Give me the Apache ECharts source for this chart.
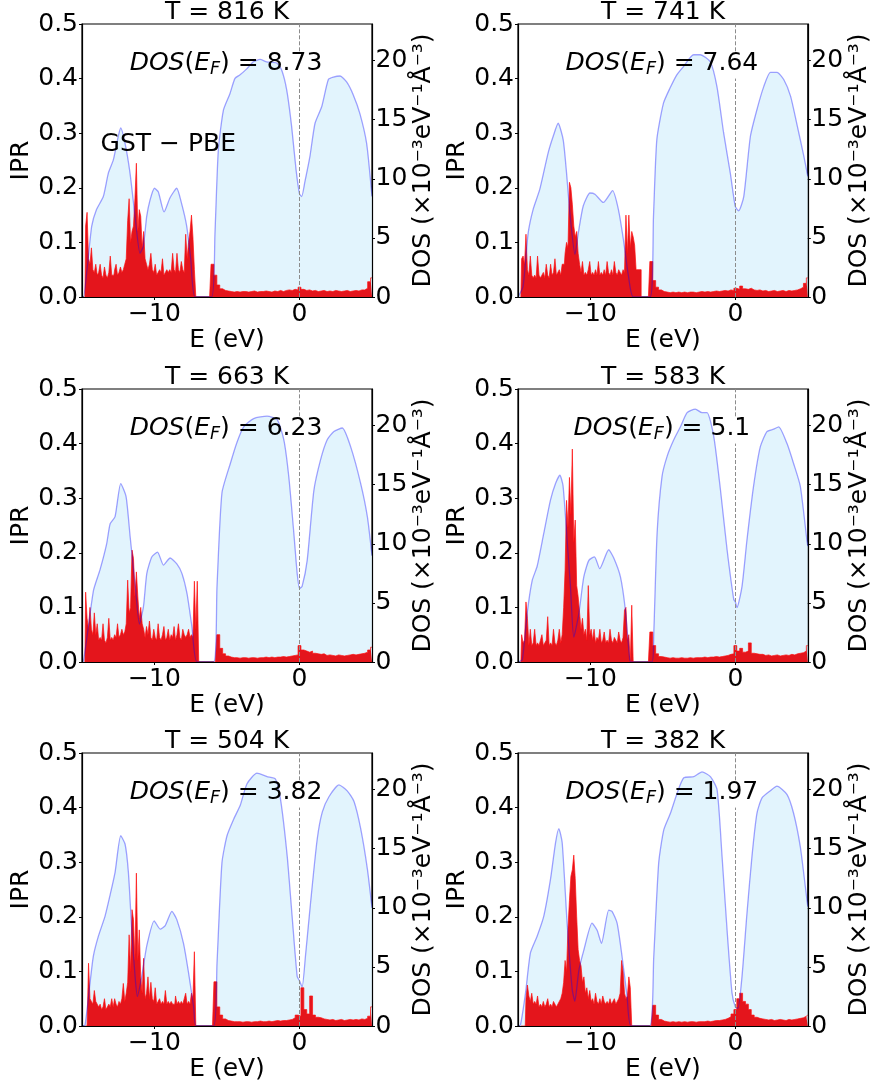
<!DOCTYPE html>
<html><head><meta charset="utf-8">
<script src="https://cdn.jsdelivr.net/npm/echarts@6/dist/echarts.min.js"></script>
<style>html,body{margin:0;padding:0;background:#fff}#c{width:873px;height:1084px}</style>
</head><body><div id="c"></div>
<script>
// ---------- data ----------
const temps = ['816', '741', '663', '583', '504', '382'];
const dosEF = ['8.73', '7.64', '6.23', '5.1', '3.82', '1.97'];
const xTicks = [-10, 0];
const dosTicks = [0, 5, 10, 15, 20];

// energy grids (eV) for IPR samples
const eVal = [-14.8,-14.7,-14.6,-14.5,-14.4,-14.3,-14.2,-14.1,-14.0,-13.9,
  -13.8,-13.7,-13.6,-13.5,-13.4,-13.3,-13.2,-13.1,-13.0,-12.9,
  -12.8,-12.7,-12.6,-12.5,-12.4,-12.3,-12.2,-12.1,-12.0,-11.9,
  -11.8,-11.7,-11.6,-11.5,-11.4,-11.3,-11.2,-11.1,-11.0,-10.9,
  -10.8,-10.7,-10.6,-10.5,-10.4,-10.3,-10.2,-10.1,-10.0,-9.9,
  -9.8,-9.7,-9.6,-9.5,-9.4,-9.3,-9.2,-9.1,-9.0,-8.9,
  -8.8,-8.7,-8.6,-8.5,-8.4,-8.3,-8.2,-8.1,-8.0,-7.9,
  -7.8,-7.7,-7.6,-7.5,-7.4,-7.3,-7.2,-7.1,-7.0,-6.9,
  -6.8];
const eCon = [-6.2,-6.0,-5.8,-5.6,-5.4,-5.2,-5.0,-4.8,-4.6,-4.4,
  -4.2,-4.0,-3.8,-3.6,-3.4,-3.2,-3.0,-2.8,-2.6,-2.4,
  -2.2,-2.0,-1.8,-1.6,-1.4,-1.2,-1.0,-0.8,-0.6,-0.4,
  -0.2,0.0,0.2,0.4,0.6,0.8,1.0,1.2,1.4,1.6,
  1.8,2.0,2.2,2.4,2.6,2.8,3.0,3.2,3.4,3.6,
  3.8,4.0,4.2,4.4,4.6,4.8,5.0];

// IPR values (valence grid / conduction grid)
const ipr816v = [0,0.13,0.155,0.07,0.06,0.09,0.05,0.045,0.06,0.04,
  0.045,0.06,0.04,0.035,0.055,0.04,0.035,0.045,0.075,0.04,
  0.04,0.05,0.06,0.04,0.045,0.055,0.045,0.05,0.06,0.07,
  0.14,0.18,0.1,0.12,0.13,0.18,0.245,0.12,0.16,0.148,
  0.09,0.12,0.07,0.06,0.05,0.06,0.08,0.05,0.045,0.06,
  0.04,0.045,0.05,0.045,0.07,0.04,0.045,0.05,0.045,0.05,
  0.045,0.08,0.05,0.045,0.08,0.05,0.045,0.065,0.05,0.045,
  0.115,0.07,0.1,0.12,0.15,0.11,0.05,0,0,0,
  0];
const ipr816c = [0,0.06,0.04,0.022,0.015,0.012,0.011,0.01,0.009,0.01,
  0.009,0.01,0.01,0.009,0.01,0.011,0.009,0.01,0.01,0.011,
  0.01,0.009,0.011,0.01,0.012,0.01,0.012,0.013,0.012,0.014,
  0.013,0.018,0.014,0.012,0.013,0.011,0.012,0.01,0.011,0.012,
  0.01,0.011,0.01,0.012,0.011,0.01,0.011,0.012,0.01,0.011,
  0.012,0.011,0.013,0.013,0.016,0.028,0.035];

const ipr741v = [0,0.07,0.075,0.06,0.115,0.05,0.04,0.075,0.04,0.035,
  0.04,0.035,0.075,0.04,0.035,0.04,0.045,0.035,0.06,0.04,
  0.035,0.06,0.04,0.045,0.07,0.04,0.045,0.05,0.04,0.06,
  0.06,0.08,0.1,0.09,0.21,0.2,0.17,0.13,0.11,0.12,
  0.08,0.06,0.045,0.065,0.04,0.045,0.04,0.05,0.065,0.04,
  0.045,0.04,0.05,0.04,0.065,0.04,0.045,0.04,0.05,0.04,
  0.065,0.045,0.04,0.05,0.04,0.065,0.045,0.04,0.05,0.045,
  0.04,0.05,0.045,0.15,0.08,0.15,0.09,0.12,0.11,0.095,
  0.05];
const ipr741c = [0,0,0.065,0.03,0.018,0.013,0.01,0.009,0.008,0.009,
  0.008,0.009,0.008,0.009,0.008,0.009,0.009,0.008,0.009,0.01,
  0.009,0.01,0.009,0.01,0.011,0.01,0.011,0.012,0.011,0.013,
  0.012,0.016,0.014,0.02,0.015,0.014,0.016,0.013,0.012,0.013,
  0.011,0.012,0.01,0.011,0.012,0.01,0.011,0.012,0.01,0.012,
  0.011,0.012,0.013,0.015,0.018,0.025,0.035];

const ipr663v = [0,0.128,0.08,0.06,0.1,0.06,0.05,0.09,0.05,0.07,
  0.04,0.045,0.04,0.07,0.04,0.035,0.045,0.08,0.04,0.045,
  0.04,0.05,0.045,0.07,0.045,0.05,0.06,0.05,0.055,0.07,
  0.15,0.09,0.1,0.205,0.19,0.12,0.165,0.12,0.08,0.1,
  0.07,0.06,0.045,0.065,0.05,0.075,0.045,0.04,0.06,0.045,
  0.04,0.07,0.045,0.04,0.05,0.065,0.04,0.045,0.06,0.04,
  0.05,0.045,0.065,0.04,0.05,0.07,0.045,0.04,0.06,0.05,
  0.045,0.05,0.06,0.045,0.05,0.045,0.148,0.06,0.148,0,
  0];
const ipr663c = [0,0,0,0.05,0.025,0.015,0.011,0.009,0.008,0.008,
  0.007,0.008,0.008,0.007,0.008,0.008,0.007,0.008,0.008,0.009,
  0.008,0.009,0.008,0.009,0.009,0.01,0.009,0.01,0.011,0.012,
  0.013,0.03,0.022,0.02,0.018,0.02,0.016,0.015,0.014,0.015,
  0.012,0.013,0.012,0.011,0.013,0.012,0.011,0.012,0.013,0.014,
  0.013,0.014,0.015,0.016,0.018,0.022,0.027];

const ipr583v = [0,0.05,0.035,0.04,0.11,0.08,0.03,0.06,0.03,0.035,
  0.06,0.03,0.035,0.03,0.04,0.05,0.03,0.035,0.04,0.083,
  0.03,0.035,0.03,0.06,0.035,0.03,0.04,0.06,0.035,0.05,
  0.1,0.168,0.296,0.247,0.338,0.27,0.39,0.22,0.26,0.14,
  0.12,0.09,0.06,0.08,0.05,0.06,0.04,0.14,0.05,0.06,
  0.04,0.06,0.035,0.045,0.04,0.06,0.035,0.04,0.055,0.035,
  0.04,0.035,0.06,0.04,0.035,0.045,0.04,0.035,0.055,0.04,
  0.035,0.045,0.095,0.1,0.04,0.05,0,0.104,0,0,
  0];
const ipr583c = [0,0,0.055,0.03,0.015,0.01,0.009,0.008,0.007,0.008,
  0.007,0.007,0.008,0.007,0.007,0.008,0.007,0.008,0.008,0.008,
  0.009,0.008,0.009,0.009,0.01,0.009,0.01,0.011,0.012,0.014,
  0.015,0.03,0.02,0.025,0.018,0.02,0.035,0.016,0.015,0.014,
  0.014,0.012,0.013,0.011,0.012,0.013,0.011,0.012,0.013,0.012,
  0.014,0.013,0.015,0.016,0.017,0.02,0.03];

const ipr504v = [0,0,0,0.115,0.05,0.045,0.04,0.065,0.045,0.04,
  0.035,0.04,0.03,0.035,0.05,0.03,0.035,0.04,0.035,0.05,
  0.035,0.05,0.04,0.035,0.045,0.04,0.05,0.078,0.045,0.06,
  0.08,0.167,0.1,0.213,0.195,0.12,0.28,0.12,0.176,0.09,
  0.06,0.124,0.05,0.06,0.09,0.05,0.08,0.05,0.045,0.07,
  0.04,0.045,0.05,0.04,0.045,0.04,0.065,0.04,0.045,0.04,
  0.045,0.04,0.04,0.055,0.04,0.045,0.04,0.045,0.04,0.05,
  0.06,0.04,0.045,0.04,0.06,0.05,0.136,0,0,0,
  0];
const ipr504c = [0,0,0.081,0.035,0.02,0.013,0.01,0.009,0.008,0.008,
  0.008,0.007,0.008,0.008,0.007,0.008,0.008,0.009,0.008,0.008,
  0.009,0.008,0.009,0.01,0.009,0.01,0.01,0.011,0.012,0.015,
  0.02,0.018,0.07,0.03,0.022,0.055,0.02,0.016,0.015,0.013,
  0.012,0.011,0.012,0.01,0.011,0.012,0.01,0.011,0.012,0.011,
  0.012,0.011,0.013,0.012,0.014,0.018,0.035];

const ipr382v = [0,0,0,0,0.05,0.075,0.055,0.045,0.06,0.04,
  0.045,0.04,0.055,0.035,0.04,0.035,0.045,0.035,0.04,0.05,
  0.035,0.04,0.035,0.045,0.04,0.035,0.04,0.045,0.05,0.06,
  0.08,0.12,0.1,0.18,0.23,0.274,0.286,0.313,0.27,0.2,
  0.14,0.12,0.11,0.08,0.09,0.06,0.07,0.05,0.065,0.045,
  0.05,0.04,0.06,0.045,0.04,0.05,0.04,0.055,0.045,0.04,
  0.045,0.04,0.05,0.04,0.045,0.05,0.04,0.045,0.05,0.06,
  0.12,0.1,0.06,0.05,0.055,0.09,0.07,0,0,0,
  0];
const ipr382c = [0,0,0,0.038,0.02,0.012,0.009,0.008,0.007,0.008,
  0.007,0.008,0.007,0.008,0.007,0.008,0.008,0.007,0.008,0.008,
  0.008,0.009,0.008,0.009,0.01,0.01,0.011,0.012,0.014,0.017,
  0.022,0.03,0.05,0.06,0.045,0.04,0.03,0.02,0.016,0.014,
  0.013,0.012,0.011,0.012,0.01,0.011,0.012,0.011,0.01,0.012,
  0.011,0.012,0.013,0.014,0.015,0.018,0.02];

// DOS curves [E (eV), DOS (1e-3 eV^-1 A^-3)]
const dos816 = [[-15,0],[-14.9,0],[-14.63,2.6],[-14.33,6.0],[-14.0,7.4],[-13.53,8.5],[-13.18,10.5],[-12.84,11.6],[-12.5,13.6],[-12.33,14.3],[-12.03,13.0],[-11.69,10.5],[-11.34,6.8],[-11.0,3.7],[-10.77,4.3],[-10.54,6.8],[-10.31,8.2],[-10.0,9.2],[-9.74,8.9],[-9.34,7.2],[-8.93,8.4],[-8.47,9.2],[-8.13,7.9],[-7.78,6.0],[-7.5,3.2],[-7.2,0],[-6.06,0],[-5.83,5.4],[-5.6,12.4],[-5.25,15.8],[-4.8,17.2],[-4.45,18.5],[-4.1,18.8],[-3.64,19.3],[-3.18,19.9],[-2.72,20.1],[-2.26,19.9],[-1.57,19.8],[-1.23,19.2],[-0.88,17.5],[-0.54,14.4],[-0.24,10.8],[0,8.73],[0.15,8.5],[0.38,9.8],[0.72,11.9],[1.07,14.7],[1.53,16.1],[1.99,18.4],[2.33,18.6],[2.8,18.7],[3.25,18.2],[3.71,17.1],[4.17,15.5],[4.63,13.0],[5.0,8.5]];
const dos741 = [[-15,0],[-14.65,0.9],[-14.3,5.4],[-13.96,7.4],[-13.5,9.1],[-12.92,12.2],[-12.57,13.6],[-12.23,14.7],[-11.88,13.3],[-11.65,10.5],[-11.42,7.1],[-11.07,3.6],[-10.84,5.4],[-10.5,7.7],[-10.03,8.8],[-9.69,8.7],[-9.11,8.0],[-8.47,9.0],[-8.07,7.4],[-7.73,4.9],[-7.38,1.8],[-7.04,0],[-5.88,0],[-5.65,6.8],[-5.42,13.3],[-4.96,16.4],[-4.5,17.7],[-4.04,18.8],[-3.58,19.5],[-2.88,20.5],[-2.42,20.5],[-1.73,19.9],[-1.27,17.8],[-0.81,13.9],[-0.35,10.5],[0,7.64],[0.23,7.3],[0.58,8.5],[1.04,13.6],[1.5,15.9],[1.96,17.8],[2.42,19.0],[2.88,19.0],[3.34,18.4],[3.81,17.0],[4.27,14.5],[4.73,11.9],[5.0,10.2]];
const dos663 = [[-15,0],[-14.9,0.1],[-14.56,3.0],[-14.2,6.1],[-13.76,7.8],[-13.3,10.0],[-13.06,11.7],[-12.72,12.3],[-12.33,15.1],[-11.96,14.0],[-11.68,10.6],[-11.34,6.6],[-11.04,3.2],[-10.76,4.7],[-10.53,7.5],[-10.18,8.9],[-9.79,9.3],[-9.38,8.2],[-8.92,8.8],[-8.46,8.3],[-8.11,7.5],[-7.76,5.8],[-7.42,3.0],[-7.07,0],[-5.92,0],[-5.69,6.4],[-5.35,14.3],[-4.77,16.8],[-4.31,18.6],[-3.85,19.9],[-3.16,20.6],[-2.24,20.8],[-1.54,20.5],[-1.08,18.8],[-0.74,15.7],[-0.39,10.9],[-0.16,7.5],[0,6.23],[0.18,6.4],[0.53,8.6],[0.99,14.5],[1.45,17.1],[1.91,18.8],[2.37,19.5],[2.95,19.8],[3.53,18.2],[4.22,15.1],[4.68,12.3],[5.0,9.0]];
const dos583 = [[-15,0],[-14.7,0.2],[-14.37,4.1],[-14.02,6.9],[-13.68,8.1],[-13.22,10.9],[-12.76,13.7],[-12.41,15.1],[-12.11,15.8],[-11.89,14.9],[-11.61,10.3],[-11.38,6.4],[-11.15,2.1],[-10.8,4.1],[-10.46,7.2],[-10.11,8.6],[-9.72,8.9],[-9.36,7.9],[-8.74,9.5],[-8.39,8.8],[-7.93,7.2],[-7.59,4.4],[-7.29,0.2],[-7.2,0],[-5.75,0],[-5.63,2.4],[-5.4,10.9],[-5.06,15.7],[-4.71,17.4],[-4.25,18.8],[-3.79,19.9],[-3.33,21.1],[-2.76,21.4],[-2.3,21.1],[-1.95,21.1],[-1.49,19.1],[-1.03,14.6],[-0.57,9.5],[-0.11,5.3],[0,5.1],[0.11,4.6],[0.46,6.4],[0.8,10.3],[1.26,14.9],[1.72,18.2],[2.18,19.5],[2.64,19.7],[2.99,19.9],[3.56,18.5],[4.02,16.8],[4.48,14.9],[4.94,10.3],[5.0,9.8]];
const dos504 = [[-15,0],[-14.79,0.1],[-14.45,3.6],[-14.22,5.9],[-13.87,7.6],[-13.41,9.3],[-13.06,11.1],[-12.72,13.0],[-12.33,16.1],[-12.03,15.4],[-11.8,13.0],[-11.57,8.2],[-11.34,4.2],[-11.18,2.5],[-10.88,4.2],[-10.53,6.8],[-10.02,8.9],[-9.61,8.2],[-9.26,8.5],[-8.8,9.7],[-8.46,9.0],[-8.0,7.0],[-7.65,4.5],[-7.3,1.6],[-7.12,0],[-5.92,0],[-5.69,5.3],[-5.35,13.8],[-5.0,16.1],[-4.54,17.5],[-4.08,18.7],[-3.62,20.5],[-2.93,21.4],[-2.24,21.1],[-1.66,20.9],[-1.31,19.2],[-0.85,14.4],[-0.51,9.3],[-0.16,4.2],[0,3.82],[0.18,3.3],[0.41,5.9],[0.76,10.4],[1.22,15.8],[1.57,18.1],[2.03,19.4],[2.72,20.4],[3.29,19.9],[3.76,19.0],[4.22,16.7],[4.68,13.3],[5.0,10.0]];
const dos382 = [[-15,0],[-14.83,0.1],[-14.48,2.8],[-14.14,6.2],[-13.68,7.6],[-13.22,9.3],[-12.76,12.4],[-12.41,15.5],[-12.18,16.7],[-11.95,15.5],[-11.61,8.7],[-11.26,3.1],[-11.08,2.1],[-10.8,4.7],[-10.46,6.4],[-9.89,8.7],[-9.54,8.1],[-9.24,7.0],[-8.74,9.8],[-8.51,9.7],[-8.16,8.7],[-7.82,5.9],[-7.47,2.5],[-7.2,0],[-5.91,0],[-5.63,5.9],[-5.29,13.8],[-4.94,16.6],[-4.48,18.0],[-4.02,19.7],[-3.56,21.0],[-2.87,21.1],[-2.3,21.5],[-1.72,21.1],[-1.26,20.0],[-0.92,14.4],[-0.57,8.1],[-0.23,2.8],[0,1.6],[0.18,1.5],[0.46,4.2],[0.8,9.5],[1.15,14.4],[1.49,18.0],[1.84,19.3],[2.41,19.9],[2.87,20.3],[3.56,19.6],[4.02,18.0],[4.48,15.2],[4.83,11.8],[5.0,10.1]];

// annotation anchors (data coords: E, IPR)
const efLabelAt = [-5.07, 0.427];
const gstLabelAt = [-9.05, 0.279];

// ---------- chart ----------
const FONT = 'DejaVu Sans';
const FS = 25;
const panels = [
  {t: temps[0], ef: dosEF[0], dos: dos816, iv: ipr816v, ic: ipr816c},
  {t: temps[1], ef: dosEF[1], dos: dos741, iv: ipr741v, ic: ipr741c},
  {t: temps[2], ef: dosEF[2], dos: dos663, iv: ipr663v, ic: ipr663c},
  {t: temps[3], ef: dosEF[3], dos: dos583, iv: ipr583v, ic: ipr583c},
  {t: temps[4], ef: dosEF[4], dos: dos504, iv: ipr504v, ic: ipr504c},
  {t: temps[5], ef: dosEF[5], dos: dos382, iv: ipr382v, ic: ipr382c}
];
const lefts = [82, 518], tops = [24, 389, 753], W = 290, H = 273;
const grids = [], xAxes = [], yAxes = [], series = [], graphics = [];
const minus = v => String(v).replace('-', '\u2212');
const txt = {color: '#000', fontFamily: FONT, fontSize: FS};

panels.forEach((p, k) => {
  const col = k % 2, row = Math.floor(k / 2);
  const L = lefts[col], T = tops[row];
  grids.push({left: L, top: T, width: W, height: H, show: true,
    borderColor: '#000', borderWidth: 1.2, backgroundColor: 'rgba(0,0,0,0)'});
  xAxes.push({gridIndex: k, type: 'value', min: -15, max: 5, z: 5,
    name: 'E (eV)', nameLocation: 'middle', nameGap: 28, nameTextStyle: txt,
    axisLine: {show: true, onZero: false, lineStyle: {color: '#000', width: 1.2}},
    axisTick: {show: true, length: 3, customValues: xTicks, lineStyle: {color: '#000'}},
    axisLabel: Object.assign({customValues: xTicks, margin: 5, formatter: minus}, txt),
    splitLine: {show: false}});
  yAxes.push({gridIndex: k, type: 'value', min: 0, max: 0.5, interval: 0.1, position: 'left', z: 5,
    name: 'IPR', nameLocation: 'middle', nameGap: 46, nameRotate: 90, nameTextStyle: txt,
    axisLine: {show: true, onZero: false, lineStyle: {color: '#000', width: 1.2}},
    axisTick: {show: true, length: 3, lineStyle: {color: '#000'}},
    axisLabel: Object.assign({margin: 4, formatter: v => v.toFixed(1)}, txt),
    splitLine: {show: false}});
  yAxes.push({gridIndex: k, type: 'value', min: 0, max: 23.1, position: 'right', z: 5,
    name: 'DOS (\u00d710\u207b\u00b3eV\u207b\u00b9\u00c5\u207b\u00b3)', nameLocation: 'middle',
    nameGap: 38, nameRotate: 90, nameTextStyle: txt,
    axisLine: {show: true, onZero: false, lineStyle: {color: '#000', width: 1.2}},
    axisTick: {show: true, length: 3, customValues: dosTicks, lineStyle: {color: '#000'}},
    axisLabel: Object.assign({customValues: dosTicks, margin: 3.5}, txt),
    splitLine: {show: false}});

  // DOS fill
  series.push({type: 'line', xAxisIndex: k, yAxisIndex: 2 * k + 1, data: p.dos,
    smooth: 0.2, showSymbol: false, silent: true, z: 1,
    lineStyle: {width: 0}, areaStyle: {color: '#e2f4fd', opacity: 1}});
  // IPR
  const ipr = eVal.map((e, i) => [e, p.iv[i]]).concat(eCon.map((e, i) => [e, p.ic[i]]));
  series.push({type: 'line', xAxisIndex: k, yAxisIndex: 2 * k, data: ipr,
    step: 'middle', showSymbol: false, silent: true, z: 2,
    lineStyle: {width: 0.7, color: '#ff1010'}, areaStyle: {color: '#e4151c', opacity: 1},
    markLine: {silent: true, symbol: ['none', 'none'], label: {show: false}, z: 4,
      lineStyle: {type: [4, 2], color: '#8c8c8c', width: 1},
      data: [[{coord: [0, 0]}, {coord: [0, 0.4]}], [{coord: [0, 0.45]}, {coord: [0, 0.5]}]]}});
  // DOS line
  series.push({type: 'line', xAxisIndex: k, yAxisIndex: 2 * k + 1, data: p.dos,
    smooth: 0.2, showSymbol: false, silent: true, z: 3,
    lineStyle: {width: 1.3, color: 'rgba(0,0,255,0.36)'}});
  graphics.push({type: 'text', x: L + W / 2, y: T + 1, z: 10,
    style: {text: 'T = ' + p.t + ' K', font: FS + 'px "DejaVu Sans"', fill: '#000',
      textAlign: 'center', textVerticalAlign: 'bottom', align: 'center', verticalAlign: 'bottom'}});
});

const chart = echarts.init(document.getElementById('c'), null, {renderer: 'canvas'});
chart.setOption({
  animation: false,
  backgroundColor: '#fff',
  textStyle: {fontFamily: FONT},
  grid: grids, xAxis: xAxes, yAxis: yAxes, series: series
});

// text annotations placed through the axes' own conversion
const rich = {
  i: {fontFamily: FONT, fontSize: FS, fontStyle: 'italic', fill: '#000', color: '#000'},
  n: {fontFamily: FONT, fontSize: FS, fill: '#000', color: '#000'},
  s: {fontFamily: FONT, fontSize: 17.5, fontStyle: 'italic', fill: '#000', color: '#000', padding: [11, 0, 0, 0]}
};
panels.forEach((p, k) => {
  const pt = chart.convertToPixel({xAxisIndex: k, yAxisIndex: 2 * k}, efLabelAt);
  graphics.push({type: 'text', x: pt[0], y: pt[1], z: 10,
    style: {text: '{i|DOS}{n|(}{i|E}{s|F}{n|) = ' + p.ef + '}', rich: rich, fill: '#000',
      textAlign: 'center', textVerticalAlign: 'middle', align: 'center', verticalAlign: 'middle'}});
});
const g = chart.convertToPixel({xAxisIndex: 0, yAxisIndex: 0}, gstLabelAt);
graphics.push({type: 'text', x: g[0], y: g[1], z: 10,
  style: {text: 'GST \u2212 PBE', font: FS + 'px "DejaVu Sans"', fill: '#000',
    textAlign: 'center', textVerticalAlign: 'middle', align: 'center', verticalAlign: 'middle'}});
chart.setOption({graphic: graphics});
</script>
</body></html>
